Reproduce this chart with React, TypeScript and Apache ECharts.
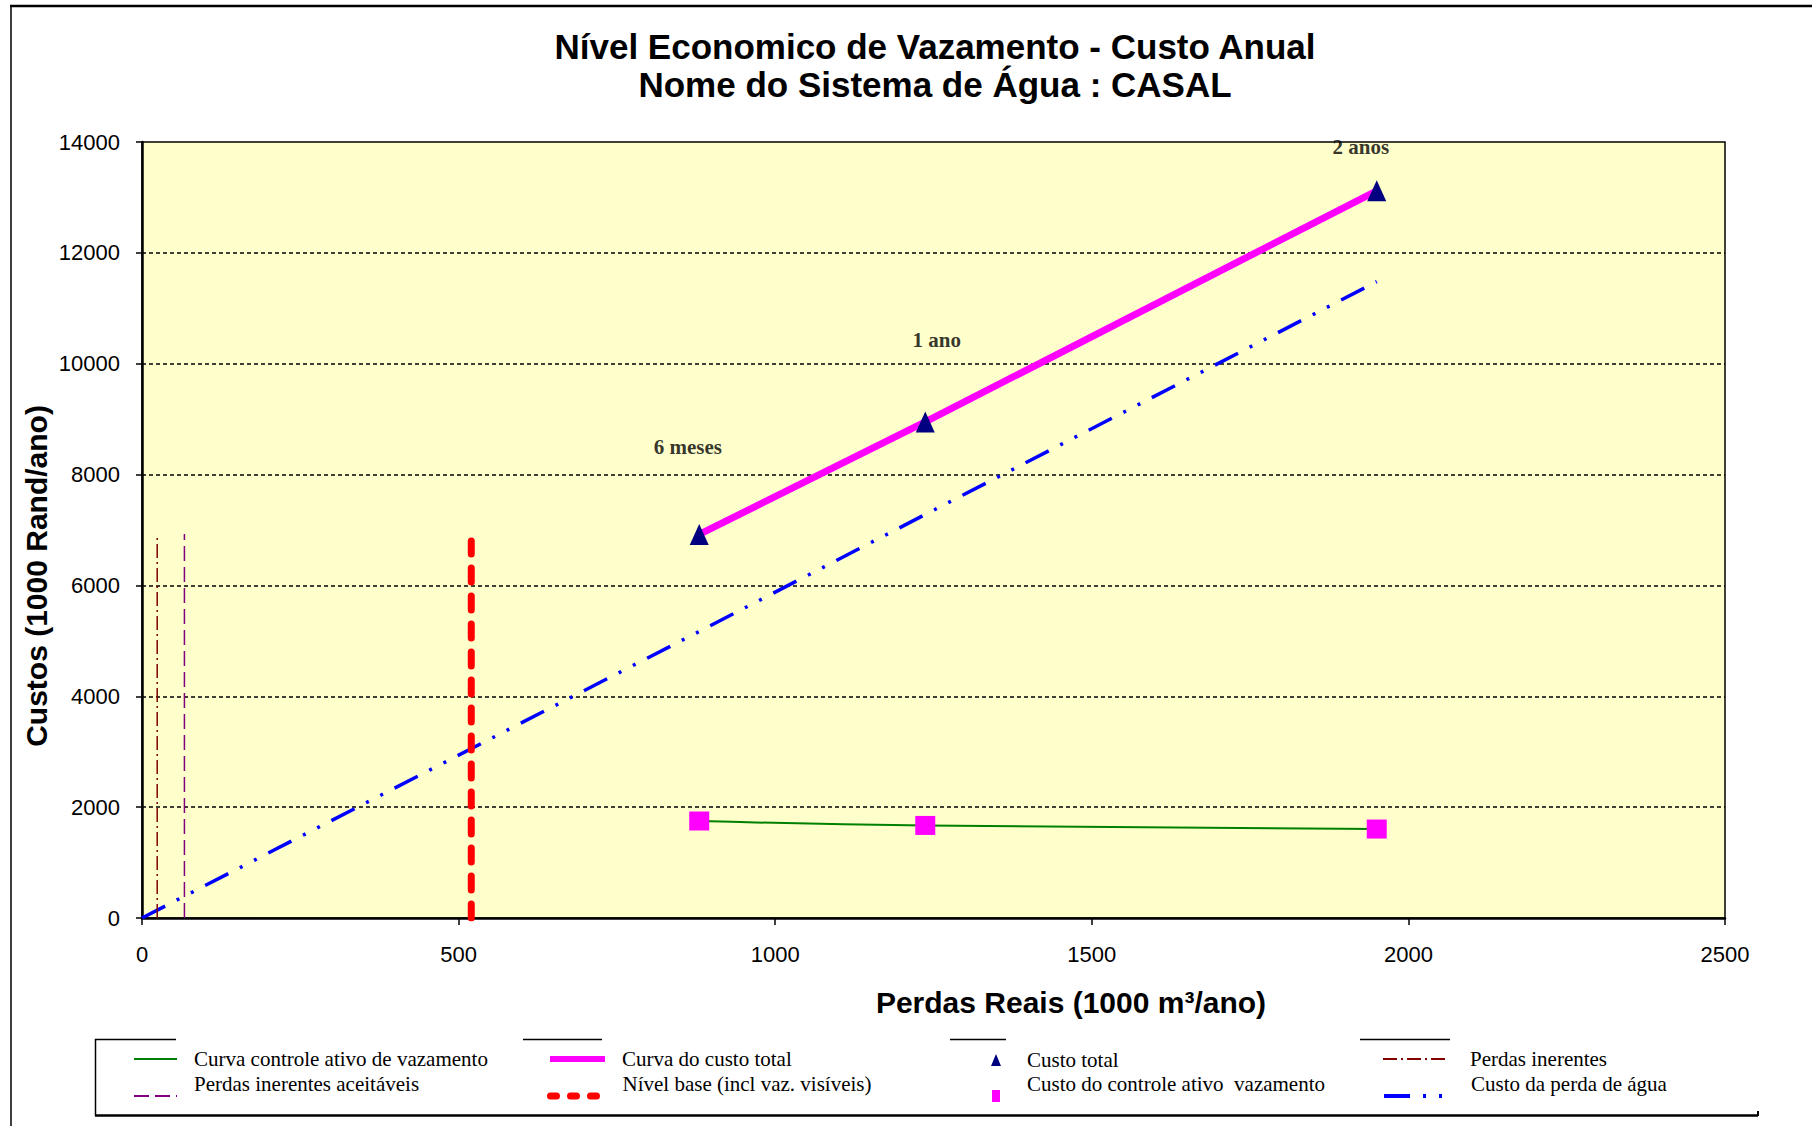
import React, { useEffect, useRef } from "react";
import * as echarts from "echarts";

// ---- data ----
const pointX = [880, 1237, 1950];
const custoTotal = [6920, 8950, 13120];
const custoControle = [1750, 1670, 1605];
const perdaAguaX = [0, 880, 1237, 1950];
const perdaAguaY = [0, 5170, 7280, 11480];
const perdasInerentesX = [24, 24];
const perdasInerentesY = [0, 6900];
const perdasAceitaveisX = [67, 67];
const perdasAceitaveisY = [0, 6930];
const nivelBaseX = [520, 520];
const nivelBaseY = [0, 6800];
const periodLabels = ["6 meses", "1 ano", "2 anos"];
const periodLabelX = [862, 1255, 1925];
const periodLabelY = [8500, 10430, 13910];
const xAxisRange = [0, 2500, 500];
const yAxisRange = [0, 14000, 2000];

const titleText = "Nível Economico de Vazamento - Custo Anual\nNome do Sistema de Água : CASAL";
const yAxisTitle = "Custos (1000 Rand/ano)";
const xAxisTitle = "Perdas Reais (1000 m³/ano)";

const nControle = "Curva controle ativo de vazamento";
const nCurvaTotal = "Curva do custo total";
const nCustoTotal = "Custo total";
const nInerentes = "Perdas inerentes";
const nAceitaveis = "Perdas inerentes aceitáveis";
const nNivelBase = "Nível base (incl vaz. visíveis)";
const nCustoControle = "Custo do controle ativo  vazamento";
const nPerdaAgua = "Custo da perda de água";

const sans = "'Liberation Sans', Arial, sans-serif";
const serif = "'Liberation Serif', 'Times New Roman', serif";

const zip = (xs: number[], ys: number[]) => xs.map((x, i) => [x, ys[i]]);

// one legend component per entry so that each can sit where the reference has it
function legendItem(
  name: string,
  left: number,
  iconCenterY: number,
  iw: number,
  ih: number,
  padLeft: number,
  lowerRow: boolean,
  lineStyle?: any
) {
  const L = 24;
  const lines = lowerRow ? 2 : 1;
  const boxH = Math.max(ih, L * lines);
  const leg: any = {
    data: [
      lineStyle
        ? { name, itemStyle: { opacity: 0 }, lineStyle }
        : { name },
    ],
    left,
    top: iconCenterY - boxH / 2,
    itemWidth: iw,
    itemHeight: ih,
    padding: 0,
    selectedMode: false,
    textStyle: {
      fontFamily: serif,
      fontSize: 21,
      lineHeight: L,
      color: "#000",
      padding: [0, 0, 0, padLeft],
    },
  };
  if (lowerRow) leg.formatter = (n: string) => n + "\n ";
  return leg;
}

function line(x1: number, y1: number, x2: number, y2: number, w: number, color = "#000") {
  return {
    type: "line",
    shape: { x1, y1, x2, y2 },
    style: { stroke: color, lineWidth: w },
    silent: true,
  };
}

export default function App() {
  const ref = useRef<HTMLDivElement>(null);

  useEffect(() => {
    if (!ref.current) return;
    const chart = echarts.init(ref.current, undefined, { renderer: "svg" });

    const option: any = {
      animation: false,
      backgroundColor: "#ffffff",
      title: {
        text: titleText,
        left: 935,
        top: 27,
        padding: 0,
        textAlign: "center",
        textStyle: {
          fontFamily: sans,
          fontWeight: "bold",
          fontSize: 35,
          lineHeight: 38,
          color: "#000",
        },
      },
      grid: {
        left: 142,
        right: 87,
        top: 142,
        bottom: 208,
        show: true,
        backgroundColor: "#FFFFCC",
        borderColor: "#000",
        borderWidth: 1.5,
      },
      xAxis: {
        type: "value",
        min: xAxisRange[0],
        max: xAxisRange[1],
        interval: xAxisRange[2],
        axisLine: { show: true, onZero: false, lineStyle: { color: "#000", width: 2.5 } },
        axisTick: { show: true, length: 7, lineStyle: { color: "#000", width: 1.5 } },
        axisLabel: {
          color: "#000",
          fontSize: 22,
          fontFamily: sans,
          margin: 25,
          formatter: (v: number) => String(v),
        },
        splitLine: { show: false },
      },
      yAxis: {
        type: "value",
        min: yAxisRange[0],
        max: yAxisRange[1],
        interval: yAxisRange[2],
        axisLine: { show: true, lineStyle: { color: "#000", width: 2.5 } },
        axisTick: { show: true, length: 6, lineStyle: { color: "#000", width: 1.5 } },
        axisLabel: {
          color: "#000",
          fontSize: 22,
          fontFamily: sans,
          margin: 22,
          formatter: (v: number) => String(v),
        },
        splitLine: {
          show: true,
          showMinLine: false,
          showMaxLine: false,
          lineStyle: { color: "#000", type: [4, 3], width: 1.5 },
        },
      },
      legend: [
        legendItem(nControle, 133, 1059, 43, 14, 12, false, { width: 2 }),
        legendItem(nAceitaveis, 133, 1096, 43, 14, 12, true, { width: 2 }),
        legendItem(nCurvaTotal, 547, 1059, 55, 14, 12, false, { width: 6 }),
        legendItem(nNivelBase, 547, 1096, 55, 14, 12, true, {
          width: 7,
          type: [6, 14],
          cap: "round",
        }),
        legendItem(nCustoTotal, 991, 1060, 10, 12, 21, false),
        legendItem(nCustoControle, 992, 1096, 8, 12, 22, true),
        legendItem(nInerentes, 1382, 1059, 63, 14, 19, false, { width: 2 }),
        legendItem(nPerdaAgua, 1382, 1096, 63, 14, 19, true, { width: 4 }),
      ],
      series: [
        {
          name: nPerdaAgua,
          type: "line",
          data: zip(perdaAguaX, perdaAguaY),
          symbol: "none",
          lineStyle: { color: "#0000FF", width: 3.5, type: [26, 13, 3, 13, 3, 13] },
          itemStyle: { color: "#0000FF" },
          z: 2,
        },
        {
          name: nInerentes,
          type: "line",
          data: zip(perdasInerentesX, perdasInerentesY),
          symbol: "none",
          lineStyle: { color: "#800000", width: 1.5, type: [14, 4, 2, 4] },
          itemStyle: { color: "#800000" },
          z: 2,
        },
        {
          name: nAceitaveis,
          type: "line",
          data: zip(perdasAceitaveisX, perdasAceitaveisY),
          symbol: "none",
          lineStyle: { color: "#800080", width: 1.5, type: [15, 6] },
          itemStyle: { color: "#800080" },
          z: 2,
        },
        {
          name: nNivelBase,
          type: "line",
          data: zip(nivelBaseX, nivelBaseY),
          symbol: "none",
          lineStyle: { color: "#FF0000", width: 7, type: [14, 14], cap: "round" },
          itemStyle: { color: "#FF0000" },
          z: 3,
        },
        {
          name: nControle,
          type: "line",
          data: zip(pointX, custoControle),
          smooth: true,
          symbol: "none",
          lineStyle: { color: "#008000", width: 2 },
          itemStyle: { color: "#008000" },
          z: 3,
        },
        {
          name: nCurvaTotal,
          type: "line",
          data: zip(pointX, custoTotal),
          symbol: "none",
          lineStyle: { color: "#FF00FF", width: 7 },
          itemStyle: { color: "#FF00FF" },
          z: 3,
        },
        {
          name: nCustoTotal,
          type: "scatter",
          data: zip(pointX, custoTotal),
          symbol: "triangle",
          symbolSize: [19, 21],
          itemStyle: { color: "#000080", opacity: 1 },
          z: 5,
        },
        {
          name: nCustoControle,
          type: "scatter",
          data: zip(pointX, custoControle),
          symbol: "rect",
          symbolSize: [20, 19],
          itemStyle: { color: "#FF00FF", opacity: 1 },
          z: 5,
        },
        {
          name: "Rótulos",
          type: "scatter",
          data: zip(periodLabelX, periodLabelY),
          symbolSize: 0,
          silent: true,
          label: {
            show: true,
            position: "inside",
            formatter: (p: any) => periodLabels[p.dataIndex],
            fontFamily: serif,
            fontWeight: "bold",
            fontSize: 21,
            color: "#000",
          },
          z: 6,
        },
      ],
      graphic: [
        {
          type: "text",
          x: 36,
          y: 576,
          rotation: Math.PI / 2,
          silent: true,
          style: {
            text: yAxisTitle,
            fontFamily: sans,
            fontWeight: "bold",
            fontSize: 30,
            fill: "#000",
            align: "center",
            verticalAlign: "middle",
          },
        },
        {
          type: "text",
          x: 1071,
          y: 1002,
          silent: true,
          style: {
            text: xAxisTitle,
            fontFamily: sans,
            fontWeight: "bold",
            fontSize: 30,
            fill: "#000",
            align: "center",
            verticalAlign: "middle",
          },
        },
        // chart area frame
        line(10, 6, 1812, 6, 2.5),
        line(11, 5, 11, 1126, 1.5),
        // legend frame
        line(95.5, 1039, 95.5, 1116, 1.5),
        line(95, 1039.5, 176, 1039.5, 1.5),
        line(523, 1039.5, 602, 1039.5, 1.5),
        line(950, 1039.5, 1006, 1039.5, 1.5),
        line(1360, 1039.5, 1450, 1039.5, 1.5),
        line(95, 1115.5, 1758, 1115.5, 2.5),
        line(1758, 1111, 1758, 1116, 2),
      ],
    };

    chart.setOption(option);
    return () => chart.dispose();
  }, []);

  return (
    <div
      ref={ref}
      style={{ position: "fixed", left: 0, top: 0, width: 1812, height: 1126 }}
    />
  );
}
